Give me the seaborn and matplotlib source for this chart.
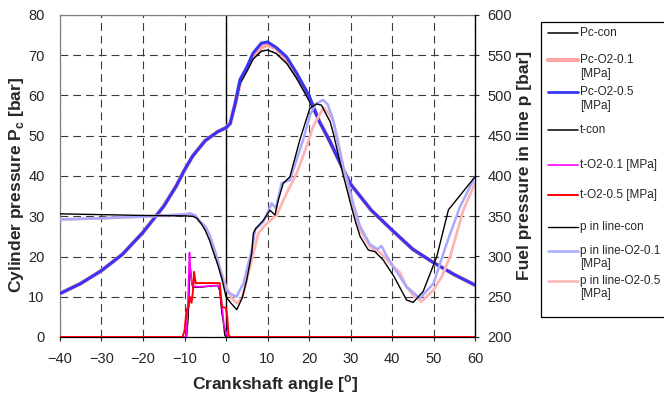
import matplotlib
matplotlib.use("Agg")
import matplotlib.pyplot as plt
import seaborn as sns
import numpy as np
from matplotlib.lines import Line2D
from matplotlib.patches import Rectangle

# ---------------- data ----------------
ang_pc = [-40, -35, -30, -25, -20, -15, -12, -10, -8, -5, -2, 0, 1, 2.2, 3.4, 5, 6.5, 8.5, 10, 12,
          14.6, 17, 20, 22.5, 25, 27.5, 30, 35, 40, 45, 50, 55, 60]
pc_con = [10.8, 13.3, 16.5, 20.5, 26, 32.5, 37.5, 41.5, 45, 48.8, 51, 52, 53, 57.5, 63, 66, 69,
          71, 71.3, 70.5, 68, 64.3, 58.8, 53.3, 48.3, 43, 38, 31.5, 26.5, 21.8, 18.5, 15.5, 12.9]
pc_o2_01 = [10.8, 13.3, 16.5, 20.5, 26, 32.5, 37.5, 41.5, 45, 48.8, 51, 52, 53, 57.8, 63.5, 66.5,
            69.8, 72, 72.6, 71.8, 69, 65, 59.5, 53.6, 48.6, 43.2, 38, 31.5, 26.5, 21.8, 18.5,
            15.5, 12.9]
pc_o2_05 = [10.8, 13.3, 16.5, 20.5, 26, 32.5, 37.5, 41.5, 45, 48.8, 51, 52, 53, 58, 64, 67, 70.5,
            73, 73.3, 72, 69.6, 65.6, 60, 53.5, 48.8, 43.2, 38, 31.5, 26.6, 21.8, 18.5, 15.5,
            12.9]

ang_t_con = [-40, -9.5, -9.1, -8.7, -8.3, -8, -6, -4, -2, -1.5, -1, -0.6, -0.3, 0, 60]
t_con = [0, 0, 5, 18.3, 14, 12.3, 12.4, 12.6, 12.8, 11.5, 6, 3.4, 0.5, 0, 0]
ang_t_01 = [-40, -9.6, -9.2, -8.8, -8.6, -8.2, -7.8, -6, -4, -2, -1.5, -1, -0.5, 0.2, 0.5, 60]
t_o2_01 = [0, 0, 8, 21, 17, 13, 12.5, 12.5, 12.7, 12.8, 12, 8, 3, 0.5, 0, 0]
ang_t_05 = [-40, -10.5, -10, -9.5, -9, -8.7, -8.3, -8, -7.7, -7.3, -7, -5, -3, -1.5, -1.2, -1, 0,
            0.3, 0.6, 1, 60]
t_o2_05 = [0, 0, 1.5, 6.7, 7.5, 10, 8.5, 11, 16.2, 13.3, 13.4, 13.4, 13.4, 13.4, 10, 7.5, 7.2,
           5, 0.5, 0, 0]

ang_f_con = [-40, -30, -20, -10, -8, -7, -6, -5, -4, -3, -2, -1, 0, 1.2, 2.6, 3.9, 5, 6.2, 6.6,
             7.2, 9, 10.6, 11.8, 12.6, 13.8, 15.4, 16.6, 17.8, 20.2, 21.8, 23, 24.3, 25.1, 26,
             27.1, 28.3, 30, 31.1, 32.3, 34.3, 35.9, 37.9, 40.5, 43.5, 45.1, 47.5, 50.8, 53.6,
             56.8, 60]
f_con = [353, 352, 351, 350.5, 350, 347.5, 341, 332.5, 320.5, 305, 290, 272.5, 250, 242, 234,
         248.5, 271, 304, 329, 335, 345, 357.5, 351.5, 370, 391, 399, 422, 445, 484, 489.5, 488,
         475, 467.5, 450, 425, 400, 366, 345, 325, 308, 306, 295.5, 275, 246, 243, 256.5, 300,
         358, 378.5, 399]

ang_f_01 = [-40, -30, -20, -10, -8.7, -7.5, -6.5, -5, -4, -3, -2, -1, 0, 1, 2.5, 4.2, 6.2, 7, 9,
            11, 12, 13.4, 15.4, 17, 18.6, 20.2, 21.5, 23.4, 24.5, 25.8, 27.1, 28.3, 29.1, 30.7,
            32.3, 34.7, 36.5, 37.5, 38.5, 40.3, 43.5, 46.7, 50, 53.2, 56.4, 60]
f_o2_01 = [346, 347.5, 349.5, 352.5, 353.5, 351.5, 345, 337.5, 327.5, 312.5, 295, 275, 258.5, 254,
           250, 266.5, 308, 333, 343, 366, 360, 391, 395, 420, 445, 475, 489, 494.5, 489, 470,
           437.5, 410, 397.5, 365, 337.5, 315, 309, 313, 302.5, 287.5, 262.5, 248, 266.5, 316.5,
           362, 399]

ang_f_05 = [-40, -30, -20, -10, -8.7, -7.5, -6.5, -5, -4, -3, -2, -1, 0, 1.5, 2.6, 3.9, 5, 6.6,
            7.8, 9.8, 12.2, 14.6, 17, 19.4, 21, 23.5, 24.8, 25.9, 26.7, 28.7, 30.7, 32.3, 34.7,
            37.1, 40.3, 41.9, 43.5, 45, 47.1, 50, 52, 54, 57.2, 60]
f_o2_05 = [346, 347.5, 349.5, 352, 353, 351, 344, 336.5, 326.5, 311.5, 295, 277.5, 262.5, 247.5,
           242, 248.5, 271, 304, 329, 341, 351.5, 378.5, 403, 436.5, 461.5, 485, 477.5, 467.5,
           450, 400, 357.5, 333, 312, 305, 287.5, 280, 262.5, 252.5, 244, 258.5, 275, 300, 358,
           391]

x_ticks = [-40, -30, -20, -10, 0, 10, 20, 30, 40, 50, 60]
left_ticks = [0, 10, 20, 30, 40, 50, 60, 70, 80]
right_ticks = [200, 250, 300, 350, 400, 450, 500, 550, 600]

# ---------------- style ----------------
sns.set_style("white")
plt.rcParams['font.family'] = ['Liberation Sans', 'DejaVu Sans']
plt.rcParams['mathtext.fontset'] = 'custom'
plt.rcParams['mathtext.rm'] = 'Liberation Sans:bold'
plt.rcParams['mathtext.bf'] = 'Liberation Sans:bold'

W, H = 664, 398
fig = plt.figure(figsize=(W / 100, H / 100), dpi=100)
ax = fig.add_axes([60 / W, 1 - 337 / H, 415 / W, 322 / H])
ax2 = ax.twinx()

C_BLUE = '#3535F5'
C_PINK = '#FFA3A3'
C_LBLUE = '#A8A8FF'
C_LPINK = '#FFB4B4'

def line(a, x, y, color, lw, z=2):
    sns.lineplot(x=x, y=y, ax=a, color=color, linewidth=lw, sort=False,
                 estimator=None, legend=False, zorder=z)

# cylinder pressure
line(ax, ang_pc, pc_o2_01, C_PINK, 3.0, 3)
line(ax, ang_pc, pc_con, 'black', 1.1, 3)
line(ax, ang_pc, pc_o2_05, C_BLUE, 2.2, 4)
# needle lift
line(ax, ang_t_con, t_con, 'black', 1.0, 5)
line(ax, ang_t_01, t_o2_01, '#FF00FF', 1.2, 5)
line(ax, ang_t_05, t_o2_05, '#FF0000', 1.4, 6)
# fuel pressure (secondary axis)
line(ax2, ang_f_05, f_o2_05, C_LPINK, 2.0, 2)
line(ax2, ang_f_01, f_o2_01, C_LBLUE, 1.8, 3)
line(ax2, ang_f_con, f_con, 'black', 1.0, 4)

ax.axvline(0, color='black', lw=1.0, zorder=2.5)

ax.set_xlim(-40, 60)
ax.set_ylim(0, 80)
ax2.set_ylim(200, 600)
ax.set_xticks(x_ticks)
ax.set_yticks(left_ticks)
ax2.set_yticks(right_ticks)
ax.grid(True, linestyle=(0, (7, 4.5)), color='#3a3a3a', linewidth=0.8)
ax.set_axisbelow(True)

for sp in ['left', 'top']:
    ax.spines[sp].set_color('#808080')
    ax2.spines[sp].set_visible(False)
ax.spines['right'].set_visible(False)
ax.spines['bottom'].set_color('black')
ax2.spines['bottom'].set_visible(False)
ax2.spines['right'].set_color('black')
for sp in ax.spines.values():
    sp.set_linewidth(0.9)
ax2.spines['right'].set_linewidth(1.0)

ax.tick_params(axis='y', length=0, pad=11, labelsize=10.5)
ax.tick_params(axis='x', direction='out', length=3, width=0.8, pad=8, labelsize=10.5,
               bottom=True)
ax2.tick_params(axis='y', direction='out', length=3, width=0.8, pad=6, labelsize=10.5, right=True)

ax.set_xlabel(r'Crankshaft angle [$^\mathrm{o}$]', fontsize=12.5, fontweight='bold')
ax.set_ylabel(r'Cylinder pressure P$_\mathrm{c}$ [bar]', fontsize=12.5, fontweight='bold')
ax2.set_ylabel('Fuel pressure in line p [bar]', fontsize=12.5, fontweight='bold')
ax.xaxis.set_label_coords(0.518, -0.112)
ax.yaxis.set_label_coords(-0.083, 0.472)
ax2.yaxis.set_label_coords(1.1, 0.534)

# ---------------- legend (manual, Excel-like) ----------------
def fx(x):
    return x / W

def fy(y):
    return 1 - y / H

fig.add_artist(Rectangle((fx(541), fy(317)), fx(200), 295 / H, transform=fig.transFigure,
                         fill=False, edgecolor='black', linewidth=0.9, clip_on=False))
entries = [
    ('Pc-con', 'black', 1.1, 33),
    ('Pc-O2-0.1\n[MPa]', C_PINK, 3.0, 60),
    ('Pc-O2-0.5\n[MPa]', C_BLUE, 2.0, 92),
    ('t-con', 'black', 1.1, 130),
    ('t-O2-0.1 [MPa]', '#FF00FF', 1.2, 165),
    ('t-O2-0.5 [MPa]', '#FF0000', 1.4, 195),
    ('p in line-con', 'black', 1.0, 227),
    ('p in line-O2-0.1\n[MPa]', C_LBLUE, 1.8, 251),
    ('p in line-O2-0.5\n[MPa]', C_LPINK, 1.8, 281),
]
for lab, col, lw, yy in entries:
    fig.add_artist(Line2D([fx(548), fx(578)], [fy(yy), fy(yy)], transform=fig.transFigure,
                          color=col, linewidth=lw))
    fig.text(fx(580), fy(yy - 6.3), lab, fontsize=8.5, va='top', ha='left', linespacing=1.2,
             transform=fig.transFigure)

fig.savefig('out.png', dpi=100)
